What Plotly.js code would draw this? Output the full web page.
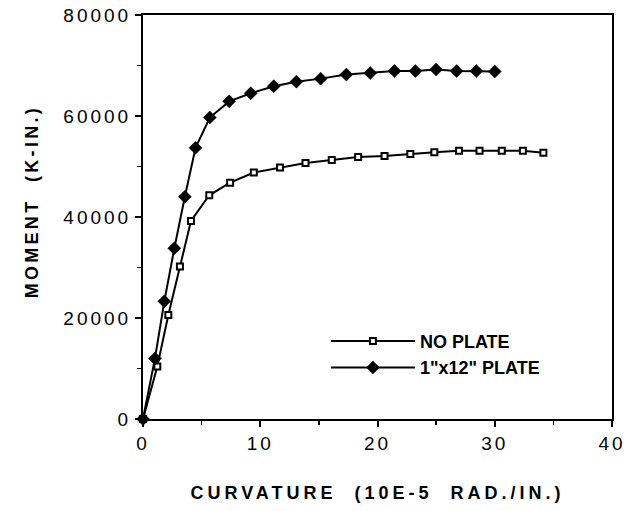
<!DOCTYPE html>
<html>
<head>
<meta charset="utf-8">
<script src="https://cdn.plot.ly/plotly-3.0.1.min.js"></script>
<style>
html,body{margin:0;padding:0;background:#fff;}
.xtitle{letter-spacing:4px;}
.annotation-text{letter-spacing:3.3px;}
.xtick text,.ytick text{letter-spacing:3px;}
</style>
</head>
<body>
<div id="chart" style="width:628px;height:511px;"></div>
<script>
var noPlateCurv = [0, 1.22, 2.16, 3.15, 4.09, 5.65, 7.43, 9.45, 11.69, 13.86, 16.1, 18.35, 20.6, 22.8, 24.85, 26.95, 28.7, 30.6, 32.4, 34.15];
var noPlateMoment = [0, 10400, 20600, 30200, 39200, 44300, 46800, 48800, 49800, 50700, 51300, 51900, 52100, 52500, 52800, 53100, 53100, 53100, 53100, 52700];
var plateCurv = [0, 1.02, 1.82, 2.67, 3.57, 4.48, 5.70, 7.35, 9.19, 11.15, 13.08, 15.15, 17.34, 19.38, 21.45, 23.23, 25.0, 26.75, 28.43, 30.0];
var plateMoment = [0, 12000, 23300, 33800, 44000, 53700, 59700, 62900, 64500, 65900, 66800, 67400, 68200, 68500, 68900, 68900, 69200, 68900, 68900, 68800];
var seriesNames = ['NO PLATE', '1"x12" PLATE'];
var xTitle = 'CURVATURE  (10E-5  RAD./IN.)';
var yTitle = 'MOMENT  (K-IN.)';

var font = "'Liberation Sans', Arial, sans-serif";
var traces = [
  {x: noPlateCurv, y: noPlateMoment, name: seriesNames[0], mode: 'lines+markers', cliponaxis: false,
   line: {color: '#000', width: 2},
   marker: {symbol: 'square', size: 6, color: '#fff', line: {color: '#000', width: 2}}},
  {x: plateCurv, y: plateMoment, name: seriesNames[1], mode: 'lines+markers', cliponaxis: false,
   line: {color: '#000', width: 2},
   marker: {symbol: 'diamond', size: 10, color: '#000', line: {color: '#000', width: 0.5}}}
];
var layout = {
  width: 628, height: 511,
  margin: {l: 143, r: 16, t: 15, b: 92},
  paper_bgcolor: '#fff', plot_bgcolor: '#fff',
  font: {family: font, color: '#000', size: 18},
  showlegend: true,
  legend: {x: 0.39, y: 0.16, xanchor: 'left', yanchor: 'middle', bgcolor: 'rgba(0,0,0,0)',
    font: {family: font, size: 18, color: '#000', weight: 'bold'}, itemwidth: 84, tracegroupgap: 0},
  xaxis: {
    range: [0, 40], dtick: 10, tick0: 0, showgrid: false, zeroline: false,
    showline: true, mirror: true, linecolor: '#000', linewidth: 2,
    ticks: 'outside', ticklen: 6, tickwidth: 2, tickcolor: '#000',
    minor: {dtick: 5, ticks: 'outside', ticklen: 4, tickwidth: 1.5, tickcolor: '#000'},
    tickfont: {family: font, size: 19, color: '#000'},
    title: {text: xTitle, font: {family: font, size: 18, color: '#000', weight: 'bold'}, standoff: 34}
  },
  yaxis: {
    range: [0, 80000], dtick: 20000, tick0: 0, showgrid: false, zeroline: false,
    showline: true, mirror: true, linecolor: '#000', linewidth: 2,
    ticks: 'outside', ticklen: 6, tickwidth: 2, tickcolor: '#000',
    minor: {dtick: 10000, ticks: 'outside', ticklen: 4, tickwidth: 1.5, tickcolor: '#000'},
    tickfont: {family: font, size: 19, color: '#000'},
    tickformat: 'd'
  },
  annotations: [
    {text: yTitle, textangle: -90, xref: 'paper', yref: 'paper', x: -0.236, y: 0.537,
     xanchor: 'center', yanchor: 'middle', showarrow: false,
     font: {family: font, size: 18, color: '#000', weight: 'bold'}}
  ]
};
Plotly.newPlot('chart', traces, layout, {displayModeBar: false, staticPlot: true});
</script>
</body>
</html>
